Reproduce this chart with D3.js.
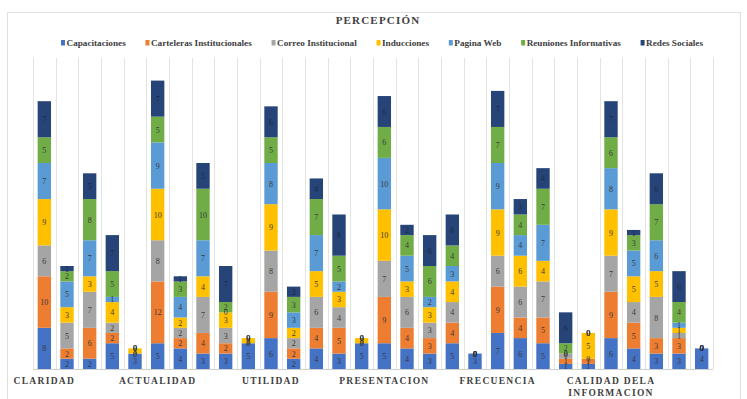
<!DOCTYPE html>
<html>
<head>
<meta charset="utf-8">
<script src="https://cdn.jsdelivr.net/npm/d3@7"></script>
<style>
  html, body { margin: 0; padding: 0; background: #fff; }
  svg { display: block; }
</style>
</head>
<body>
<svg id="chart" width="747" height="399"></svg>
<script>
// Category groups shown on the axis (one label every five bars)
const groups = ["CLARIDAD", "ACTUALIDAD", "UTILIDAD", "PRESENTACION", "FRECUENCIA", "CALIDAD DELA INFORMACION"];
const barsPerGroup = 5;

const seriesNames = ["Capacitaciones", "Carteleras Institucionales", "Correo Institucional",
  "Inducciones", "Pagina Web", "Reuniones Informativas", "Redes Sociales"];
const seriesColors = ["#4472C4", "#ED7D31", "#A5A5A5", "#FFC000", "#5B9BD5", "#70AD47", "#264478"];

// Values per series, 30 bars (6 groups x 5 bars)
const capacitaciones = [8,2,2,5,3, 5,4,3,3,5, 6,2,4,3,5, 5,4,3,5,3, 7,6,5,1,1, 6,4,3,3,4];
const carteleras     = [10,2,6,2,0, 12,2,4,2,0, 9,2,4,5,0, 9,4,3,4,0, 9,4,5,1,1, 9,5,3,3,0];
const correo         = [6,5,7,2,0, 8,2,7,3,0, 8,2,6,4,0, 7,6,3,4,0, 6,6,7,1,0, 7,4,8,1,0];
const inducciones    = [9,3,3,4,1, 10,2,4,3,1, 9,2,5,3,1, 10,3,3,4,0, 9,6,4,0,5, 9,5,5,1,0];
const paginaWeb      = [7,5,7,1,0, 9,4,7,0,0, 8,3,7,2,0, 10,5,2,3,0, 9,4,7,0,0, 8,5,6,1,0];
const reuniones      = [5,2,8,5,0, 5,3,10,2,0, 5,3,7,5,0, 6,4,6,4,0, 7,4,7,2,0, 6,3,7,4,0];
const redes          = [7,1,5,7,0, 7,1,5,7,0, 6,2,4,8,0, 6,2,6,6,0, 7,3,4,6,0, 7,1,6,6,0];

const seriesValues = [capacitaciones, carteleras, correo, inducciones, paginaWeb, reuniones, redes];
const yMax = 60;

// Build rows for d3.stack
const nBars = capacitaciones.length;
const rows = d3.range(nBars).map(i => {
  const r = { idx: i };
  seriesNames.forEach((s, k) => { r[s] = seriesValues[k][i]; });
  return r;
});

const svg = d3.select("#chart");
const plot = { left: 33, right: 713, top: 60, bottom: 369 };

// Outer chart frame
svg.append("rect").attr("x", 7.5).attr("y", 12.5).attr("width", 733).attr("height", 390)
  .attr("fill", "#fff").attr("stroke", "#e0e0e0").attr("stroke-width", 1);

const x = d3.scaleBand().domain(d3.range(nBars)).range([plot.left, plot.right]).paddingInner(0.41).paddingOuter(0.205);
const y = d3.scaleLinear().domain([0, yMax]).range([plot.bottom, plot.top]);

// Vertical gridlines at band boundaries
const step = (plot.right - plot.left) / nBars;
const gridX = d3.range(nBars + 1).map(i => plot.left + i * step);
svg.append("g").selectAll("line").data(gridX).join("line")
  .attr("x1", d => Math.round(d) + 0.5).attr("x2", d => Math.round(d) + 0.5)
  .attr("y1", plot.top - 2).attr("y2", plot.bottom)
  .attr("stroke", "#e3e3e3").attr("stroke-width", 1);

const stack = d3.stack().keys(seriesNames);
const stacked = stack(rows);

const layers = svg.append("g").selectAll("g").data(stacked).join("g")
  .attr("fill", (d, k) => seriesColors[k]);

layers.selectAll("rect").data(d => d).join("rect")
  .attr("x", (d, i) => x(i))
  .attr("width", x.bandwidth())
  .attr("y", d => y(d[1]))
  .attr("height", d => y(d[0]) - y(d[1]));

// Baseline
svg.append("line").attr("x1", plot.left).attr("x2", plot.right)
  .attr("y1", plot.bottom + 0.5).attr("y2", plot.bottom + 0.5)
  .attr("stroke", "#d0d0d0").attr("stroke-width", 1);

// Data labels centred in each segment
const labels = svg.append("g").attr("font-family", "'Liberation Serif', 'DejaVu Serif', serif")
  .attr("font-size", 8).attr("text-anchor", "middle");
stacked.forEach((layer, k) => {
  labels.selectAll(null).data(layer).join("text")
    .attr("x", (d, i) => x(i) + x.bandwidth() / 2)
    .attr("y", d => (y(d[0]) + y(d[1])) / 2 + 3)
    .attr("fill", k === 6 ? "#1e2a44" : "#3a3a3a")
    .text(d => d[1] - d[0]);
});

// Category axis labels, one per group, under the first bar of the group
const axisLabels = svg.append("g").attr("font-family", "'Liberation Serif', serif")
  .attr("font-size", 9.5).attr("font-weight", "bold").attr("fill", "#404040")
  .attr("text-anchor", "middle").attr("letter-spacing", 1.3);
groups.forEach((g, gi) => {
  const cx = x(gi * barsPerGroup) + x.bandwidth() / 2;
  const lines = g === "CALIDAD DELA INFORMACION" ? ["CALIDAD DELA", "INFORMACION"] : [g];
  lines.forEach((t, li) => {
    axisLabels.append("text").attr("x", cx).attr("y", 384 + li * 12).text(t);
  });
});

// Title
svg.append("text").attr("x", 378).attr("y", 24).attr("text-anchor", "middle")
  .attr("font-family", "'Liberation Serif', serif").attr("font-weight", "bold")
  .attr("font-size", 11).attr("letter-spacing", 1.2).attr("fill", "#404040")
  .text("PERCEPCIÓN");

// Legend spread across the chart width
const legend = svg.append("g").attr("font-family", "'Liberation Serif', serif")
  .attr("font-size", 9.2).attr("font-weight", "bold").attr("fill", "#404040");
const items = seriesNames.map((s, k) => {
  const g = legend.append("g");
  g.append("rect").attr("x", 0).attr("y", -6).attr("width", 4).attr("height", 5.5).attr("fill", seriesColors[k]);
  const t = g.append("text").attr("x", 5.5).attr("y", 0).text(s);
  return { g, w: 5.5 + t.node().getComputedTextLength() };
});
const legendLeft = 61, legendRight = 703;
const gap = (legendRight - legendLeft - d3.sum(items, d => d.w)) / (items.length - 1);
let lx = legendLeft;
items.forEach(it => { it.g.attr("transform", `translate(${lx},46)`); lx += it.w + gap; });
</script>
</body>
</html>
